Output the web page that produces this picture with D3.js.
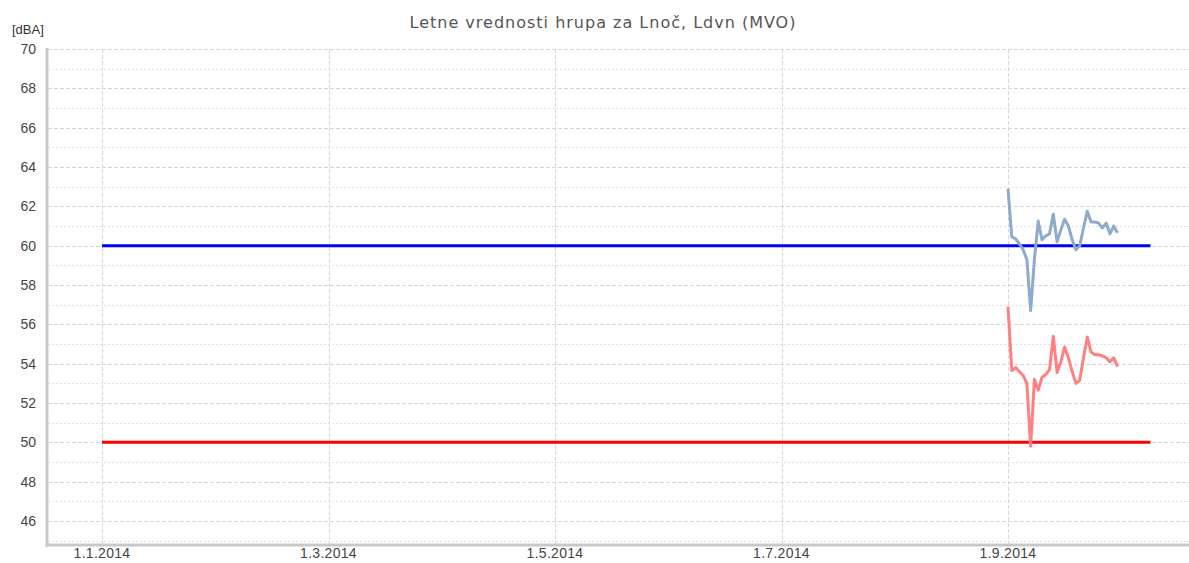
<!DOCTYPE html>
<html>
<head>
<meta charset="utf-8">
<script src="https://cdn.jsdelivr.net/npm/d3@7"></script>
<style>
html,body{margin:0;padding:0;background:#fff;}
svg{display:block;}
</style>
</head>
<body>
<svg id="chart" width="1189" height="563"></svg>
<script>
const title = "Letne vrednosti hrupa za Lnoč, Ldvn (MVO)";
const yUnit = "[dBA]";
const yTicks = [46, 48, 50, 52, 54, 56, 58, 60, 62, 64, 66, 68, 70];
const xTickDates = ["2014-01-01", "2014-03-01", "2014-05-01", "2014-07-01", "2014-09-01"];
const xTickLabels = ["1.1.2014", "1.3.2014", "1.5.2014", "1.7.2014", "1.9.2014"];

// daily values, 1.9.2014 - 30.9.2014
const seriesStart = "2014-09-01";
const ldvnValues = [62.9, 60.45, 60.35, 60.1, 59.8, 59.3, 56.7, 59.3, 61.25, 60.3,
  60.5, 60.6, 61.6, 60.2, 60.8, 61.35, 61.0, 60.3, 59.8, 60.0,
  60.9, 61.75, 61.2, 61.2, 61.15, 60.9, 61.15, 60.6, 61.0, 60.65];
const lnocValues = [56.9, 53.65, 53.8, 53.6, 53.4, 53.0, 49.8, 53.2, 52.65, 53.3,
  53.45, 53.7, 55.4, 53.55, 54.1, 54.85, 54.3, 53.6, 53.0, 53.15,
  54.3, 55.35, 54.6, 54.45, 54.45, 54.4, 54.3, 54.1, 54.3, 53.85];

// limit values
const limitStart = "2014-01-01";
const limitEnd = "2014-10-09";
const ldvnLimit = 60;
const lnocLimit = 50;

(function () {
const parse = d3.utcParse("%Y-%m-%d");
const svg = d3.select("#chart");

const L = 47, R = 1189, T = 49, B = 545;

// month-based axis: each month has equal width
const monthPos = dt => {
  const m0 = d3.utcMonth.floor(dt);
  const m1 = d3.utcMonth.offset(m0, 1);
  return dt.getUTCMonth() + (dt - m0) / (m1 - m0) + 12 * (dt.getUTCFullYear() - 2014);
};
const xm = d3.scaleLinear().domain([0, 8]).range([102, 1008]);
const x = dt => xm(monthPos(dt));
const y = d3.scaleLinear().domain([44.78, 70]).range([B, T]);

// grid
const g = svg.append("g");
const minor = d3.range(45, 70, 1).filter(v => v % 2 === 1);
g.selectAll("line.minor").data(minor).join("line")
  .attr("x1", L + 1).attr("x2", R)
  .attr("y1", d => Math.round(y(d)) + 0.5).attr("y2", d => Math.round(y(d)) + 0.5)
  .attr("stroke", "#e2e2e2").attr("stroke-dasharray", "2,2");
g.selectAll("line.major").data(yTicks).join("line")
  .attr("x1", L + 1).attr("x2", R)
  .attr("y1", d => Math.round(y(d)) + 0.5).attr("y2", d => Math.round(y(d)) + 0.5)
  .attr("stroke", "#d6d6d6").attr("stroke-dasharray", "4,2");
g.selectAll("line.vg").data(xTickDates).join("line")
  .attr("x1", d => Math.round(x(parse(d))) + 0.5).attr("x2", d => Math.round(x(parse(d))) + 0.5)
  .attr("y1", T).attr("y2", B)
  .attr("stroke", "#d6d6d6").attr("stroke-dasharray", "4,2");

// axes lines
svg.append("line").attr("x1", L).attr("x2", L).attr("y1", T - 1).attr("y2", B + 2)
  .attr("stroke", "#c8c8c8").attr("stroke-width", 3);
svg.append("line").attr("x1", L - 1).attr("x2", R).attr("y1", B).attr("y2", B)
  .attr("stroke", "#c8c8c8").attr("stroke-width", 3);

// y labels
svg.append("g").selectAll("text").data(yTicks).join("text")
  .attr("x", 36).attr("y", d => y(d)).attr("dy", "0.36em")
  .attr("text-anchor", "end")
  .attr("font-family", "Liberation Sans, Arial, sans-serif")
  .attr("font-size", 14).attr("fill", "#444")
  .text(d => d);
svg.append("text").attr("x", 12).attr("y", 34)
  .attr("font-family", "Liberation Sans, Arial, sans-serif")
  .attr("font-size", 13).attr("fill", "#333").text(yUnit);

// x labels
svg.append("g").selectAll("text").data(xTickDates).join("text")
  .attr("x", d => x(parse(d))).attr("y", 558)
  .attr("text-anchor", "middle")
  .attr("font-family", "Liberation Sans, Arial, sans-serif")
  .attr("font-size", 14).attr("fill", "#444")
  .attr("letter-spacing", "0.3px")
  .text((d, i) => xTickLabels[i]);

// title
svg.append("text").attr("x", 603).attr("y", 28)
  .attr("text-anchor", "middle")
  .attr("font-family", "DejaVu Sans, Verdana, sans-serif")
  .attr("font-size", 16).attr("fill", "#555")
  .attr("letter-spacing", "1px")
  .text(title);

// limit lines
const limits = [{v: ldvnLimit, c: "#0000ff"}, {v: lnocLimit, c: "#ff0000"}];
svg.append("g").selectAll("line").data(limits).join("line")
  .attr("x1", x(parse(limitStart))).attr("x2", x(parse(limitEnd)))
  .attr("y1", d => y(d.v)).attr("y2", d => y(d.v))
  .attr("stroke", d => d.c).attr("stroke-width", 3);

// series
const start = parse(seriesStart);
const toPts = arr => arr.map((v, i) => ({d: d3.utcDay.offset(start, i), v}));
const line = d3.line().x(p => x(p.d)).y(p => y(p.v));
const series = [{vals: ldvnValues, c: "#8eaacc"}, {vals: lnocValues, c: "#ff8080"}];
svg.append("g").selectAll("path").data(series).join("path")
  .attr("d", s => line(toPts(s.vals)))
  .attr("fill", "none").attr("stroke", s => s.c).attr("stroke-width", 3)
  .attr("stroke-linejoin", "round");
})();
</script>
</body>
</html>
